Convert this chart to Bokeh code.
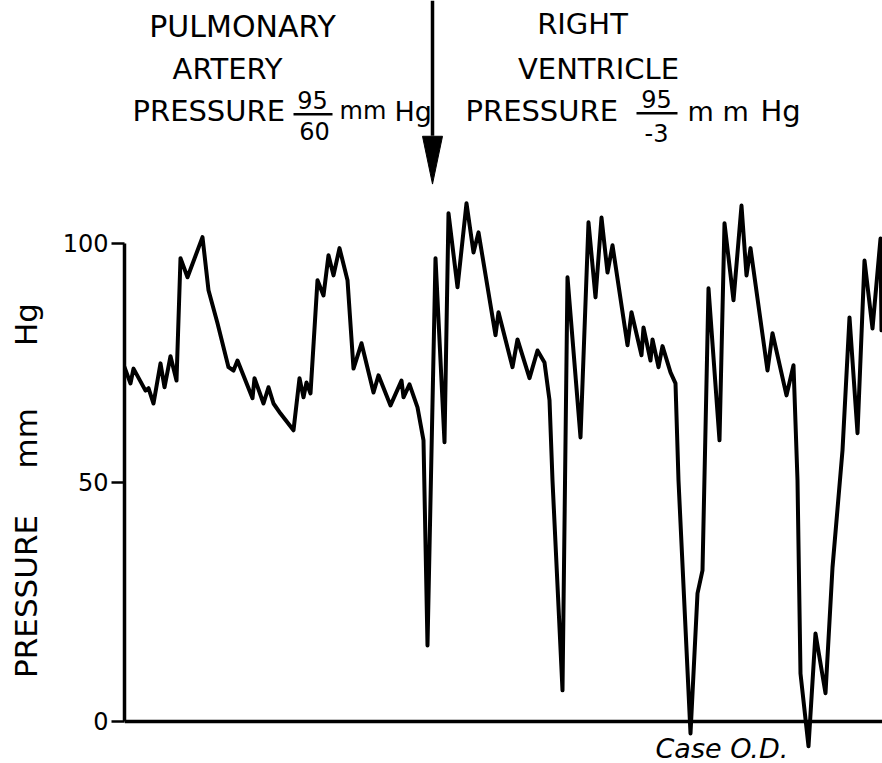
from bokeh.plotting import figure
from bokeh.models import Range1d, LinearAxis, FixedTicker, Span, Label
from bokeh.embed import file_html
from bokeh.resources import INLINE

# ---- data: pressure trace (time in arbitrary chart units, pressure in mm Hg) ----
time_pa = [0, 6, 9, 21, 24, 29, 36, 40, 46, 52, 56, 63, 78, 84, 93, 104, 109, 113,
           128, 130, 139, 144, 149, 156, 169, 175, 179, 182, 186, 193, 199, 204, 209,
           215, 223, 229, 237, 249, 254, 266, 277, 279, 285, 293, 299]
pressure_pa = [74.1, 70.7, 73.8, 69.2, 69.7, 66.5, 74.9, 69.9, 76.4, 71.3, 96.9, 92.9,
               101.3, 90.2, 83.3, 74.1, 73.4, 75.5, 67.6, 71.8, 66.5, 69.9, 66.5, 64.4,
               60.9, 71.8, 67.8, 70.9, 68.6, 92.3, 89.1, 97.5, 93.3, 99.0, 92.3, 73.8,
               79.1, 68.8, 72.4, 66.1, 71.3, 67.8, 70.5, 65.7, 58.8]
time_rv = [303, 311, 320, 324, 333, 342, 349, 354, 371, 374, 388, 393, 405, 413, 420,
           425, 428, 438, 443, 456, 464, 471, 477, 483, 488, 503, 507, 517, 519, 526,
           528, 534, 538, 546, 551, 554, 566, 573, 578, 584, 595, 600, 609, 617, 622,
           626, 643, 648, 662, 669, 673, 676, 684, 691, 701, 708, 718, 725, 733, 740,
           748, 756, 757]
pressure_rv = [15.9, 96.9, 58.4, 106.3, 90.8, 108.4, 98.1, 102.3, 80.8, 85.6, 74.1,
               79.9, 71.8, 77.6, 75.1, 67.2, 50.4, 6.5, 92.9, 59.4, 104.4, 88.7, 105.4,
               93.9, 99.6, 78.7, 85.6, 76.6, 82.4, 75.5, 79.9, 74.1, 78.5, 73.0, 70.7,
               50.4, -2.5, 26.8, 31.6, 90.6, 58.8, 104.2, 88.1, 107.9, 93.3, 99.0, 73.4,
               81.2, 68.2, 74.5, 50.4, 10.0, -5.2, 18.4, 5.9, 32.2, 56.7, 84.5, 60.3,
               96.4, 82.2, 101.0, 81.8]
y_ticks = [0, 50, 100]
transition_time = 308

time_all = time_pa + time_rv
pressure_all = pressure_pa + pressure_rv

FONT = "DejaVu Sans"
Y_TOP = 150.8
Y_BOTTOM = -8.8

p = figure(width=882, height=763, output_backend="svg", toolbar_location=None,
           x_range=Range1d(0, 758), y_range=Range1d(Y_BOTTOM, Y_TOP),
           x_axis_type=None, y_axis_type=None,
           min_border_left=124, min_border_right=0, min_border_top=0, min_border_bottom=0)
p.outline_line_color = None
p.xgrid.visible = False
p.ygrid.visible = False
p.background_fill_color = "white"
p.border_fill_color = "white"

EM = "\u2003"
yaxis = LinearAxis(ticker=FixedTicker(ticks=y_ticks), bounds=(0, 100))
yaxis.axis_line_width = 3.5
yaxis.axis_line_color = "black"
yaxis.major_tick_line_width = 2.5
yaxis.major_tick_line_color = "black"
yaxis.major_tick_out = 13
yaxis.major_tick_in = 0
yaxis.minor_tick_line_color = None
yaxis.major_label_standoff = 3
yaxis.major_label_text_font = FONT
yaxis.major_label_text_font_size = "24px"
yaxis.major_label_text_color = "black"
yaxis.axis_label = "PRESSURE" + EM + "\u2002" + "mm" + EM * 2 + "Hg" + EM * 7
yaxis.axis_label_text_font = FONT
yaxis.axis_label_text_font_size = "31px"
yaxis.axis_label_text_font_style = "normal"
yaxis.axis_label_text_color = "black"
yaxis.axis_label_standoff = 16
p.add_layout(yaxis, "left")

p.add_layout(Span(location=0, dimension="width", line_color="black", line_width=3.5))

p.line(time_all, pressure_all, line_color="black", line_width=4,
       line_join="round", line_cap="round")

# arrow marking the catheter withdrawal from artery into ventricle
p.segment(x0=[transition_time], y0=[Y_TOP], x1=[transition_time], y1=[122.5],
          line_color="black", line_width=3.5)
p.patch([transition_time - 10, transition_time + 10, transition_time],
        [122.4, 122.4, 112.4], fill_color="black", line_color="black", line_width=1)

def lab(x, y, text, size, align="left", baseline="alphabetic", style="normal"):
    p.add_layout(Label(x=x, y=y, text=text, text_font=FONT, text_font_size=size,
                       text_align=align, text_baseline=baseline,
                       text_font_style=style, text_color="black"))

# left heading
lab(118, 145.4, "PULMONARY", "30px", align="center")
lab(103, 136.4, "ARTERY", "29px", align="center")
lab(8, 127.6, "PRESSURE", "29px")
lab(188, 130.0, "95", "24px", align="center")
p.segment(x0=[169], y0=[127.0], x1=[208], y1=[127.0], line_color="black", line_width=2.5)
lab(190, 123.4, "60", "24px", align="center")
lab(215, 127.6, "mm", "24px")
lab(270, 127.6, "Hg", "27px")

# right heading
lab(458, 145.8, "RIGHT", "29px", align="center")
lab(474, 136.4, "VENTRICLE", "29px", align="center")
lab(341, 127.6, "PRESSURE", "29px")
lab(532, 130.2, "95", "24px", align="center")
p.segment(x0=[512], y0=[127.2], x1=[553], y1=[127.2], line_color="black", line_width=2.5)
lab(532, 123.0, "-3", "24px", align="center")
lab(563, 127.6, "m m", "27px")
lab(636, 127.6, "Hg", "29px")

# case label
lab(531, -5.7, "Case O.D.", "27px", style="italic")

open("out.html", "w").write(file_html(p, INLINE))
